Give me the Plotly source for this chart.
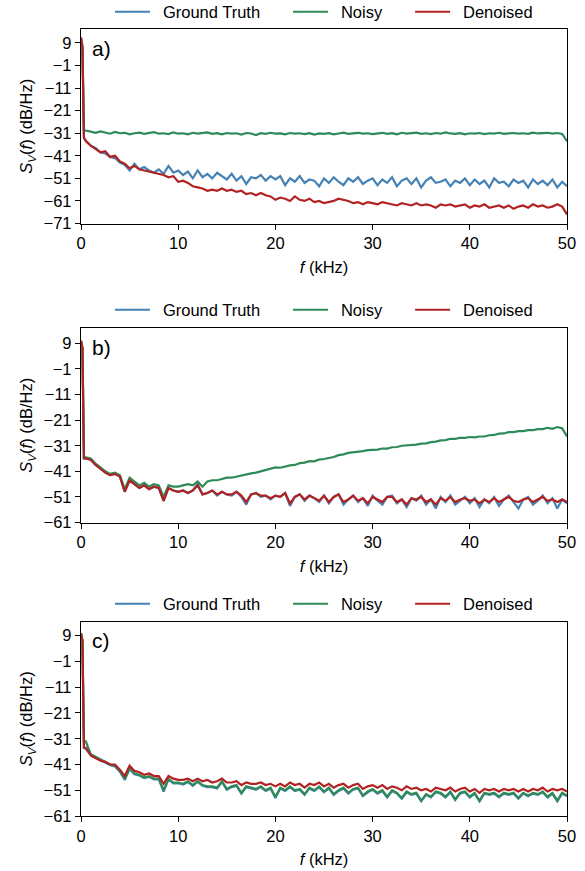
import plotly.graph_objects as go

# ---------------- data ----------------
freq_khz = [0.0, 0.15, 0.3] + [0.5 * i for i in range(1, 101)]

series_names = ["Ground Truth", "Noisy", "Denoised"]
colors = ["#4682b4", "#2e8b57", "#b22222"]

# Panel a
gt_a = [11, 7, -33,
        -34.5, -36.5, -37.5, -39.5, -40, -41.5, -42, -44, -45, -47.5,
        -44.5, -47, -46, -47.5, -48.5, -47, -49, -45.5, -48.5, -47.5,
        -49.5, -48, -51, -47.5, -50.5, -49, -51, -48.5, -50, -51.5,
        -49, -52, -50, -53.5, -50.5, -51, -49.5, -52, -50, -51.5,
        -50, -54, -51, -52.5, -50, -53, -51.5, -52, -54.5, -51,
        -53, -50.5, -52.5, -54, -51, -52.5, -50.5, -53.5, -52, -51,
        -54, -51.5, -53, -50.5, -54.5, -52, -51, -53.5, -51, -55,
        -52, -50.5, -53, -52.5, -51.5, -54.5, -52, -53, -51, -54,
        -51.5, -53.5, -52, -55, -51, -53, -52.5, -54.5, -51.5, -53,
        -52, -55, -51.5, -53.5, -52, -54, -51.5, -55, -52.5, -54.5]
noisy_a = [11, 7, -30,
           -29.8, -30.3, -30.8, -30.2, -30.6, -31.2, -30.4, -31, -30.8, -31.5,
           -31, -30.7, -31.3, -31, -30.5, -31.2, -31, -31.4, -30.6, -31.2,
           -31, -31.5, -30.8, -31.2, -31, -30.6, -31.3, -31, -31.5, -30.9,
           -31.2, -31, -31.6, -30.9, -31.1, -31.8, -31, -31.3, -30.8, -31.2,
           -31.1, -31.5, -30.9, -31.2, -31, -31.4, -31, -31.6, -31.1, -31.3,
           -31, -31.5, -31.1, -30.7, -31.3, -31, -30.8, -31.2, -31, -31.4,
           -31.1, -30.8, -31.3, -31, -31.5, -30.8, -31.2, -31, -30.7, -31.3,
           -31, -31.4, -30.9, -31.2, -30.6, -31.1, -31.3, -31, -31.5, -31,
           -31.2, -30.9, -31.4, -31, -31.2, -30.8, -31.3, -31.1, -30.9, -31.2,
           -31, -31.3, -30.7, -31.1, -31, -30.8, -31.2, -30.9, -31.3, -34.5]
den_a = [11.5, 7.5, -33,
         -34.5, -36.5, -38, -39.5, -39, -41.5, -41, -43.5, -44.5, -46.5,
         -45.5, -47, -47.5, -48, -48.5, -49, -49.5, -50.5, -50, -52.5,
         -52, -53, -54.5, -55, -55.5, -56.5, -56, -56.5, -55.5, -56.5,
         -56, -57, -56.5, -58, -57.5, -58.5, -57.5, -58.5, -59, -60.5,
         -59.5, -60, -61, -59, -60.5, -61, -60, -61.5, -61, -62,
         -61.5, -61, -60, -60.5, -61, -62, -61.5, -62.5, -61.5, -62,
         -62.5, -61.5, -62, -62.5, -63, -62, -62.5, -63, -62, -63,
         -62.5, -63, -64, -62.5, -63, -62.5, -63.5, -63, -62.5, -64,
         -63, -63.5, -62.5, -64, -63.5, -63, -64, -63, -64.5, -63.5,
         -63, -64, -62.5, -63.5, -63, -64, -63.5, -62.5, -63.5, -67]

# Panel b
gt_b = [10, 7, -36,
        -36, -36.5, -38.5, -40, -41.5, -42.5, -42, -43, -49, -44.5,
        -46, -47.5, -46.5, -48, -47, -47.5, -52.5, -47.5, -48.5, -49,
        -48.5, -49.5, -48.5, -46, -50, -49.5, -48.5, -50.5, -49, -50,
        -50.5, -49, -51, -54, -50, -49.5, -51, -50.5, -52, -50.5,
        -51, -49.5, -54.5, -51, -50, -52.5, -50.5, -51.5, -53, -50.5,
        -53.5, -51, -50, -54, -52, -50.5, -53, -51.5, -54.5, -50.5,
        -52.5, -54, -51, -50.5, -53.5, -52, -55, -51.5, -52.5, -50.5,
        -54, -52, -55.5, -51, -53, -50.5, -54, -52.5, -51, -53.5,
        -51.5, -55, -52, -53.5, -51, -54.5, -52, -50.5, -53, -55.5,
        -52, -51, -54, -52.5, -50.5, -53.5, -51.5, -55.5, -52, -53.5]
noisy_b = [10, 7, -35.5,
           -35.5, -36, -38, -39.5, -41, -42, -41.5, -42.5, -48, -43.5,
           -45, -46.5, -45.5, -47, -46, -46.5, -51, -46.5, -47, -47,
           -46.5, -46, -46.5, -45, -47, -45, -44.5, -44.5, -44, -43.5,
           -43.5, -43, -42.5, -42.3, -41.8, -41.5, -41, -40.6, -40.2, -39.5,
           -39.6, -39, -38.7, -38.5, -37.8, -37.6, -37, -37.1, -36.4, -36.2,
           -35.8, -35.4, -34.7, -34.4, -33.8, -33.6, -33.2, -33.1, -32.7, -32.6,
           -32.5, -32.1, -32.1, -31.6, -31.5, -31.0, -30.9, -30.6, -30.6, -30.2,
           -30.1, -29.6, -29.4, -28.9, -28.8, -28.3, -28.3, -27.9, -27.9, -27.6,
           -27.7, -27.4, -27.4, -26.9, -26.8, -26.3, -26.2, -25.7, -25.7, -25.3,
           -25.3, -24.9, -24.9, -24.5, -24.5, -24.0, -24.4, -23.7, -24.2, -27.4]
den_b = [10, 7, -36,
         -36, -36.5, -38.5, -40, -41.5, -42.5, -42, -43, -49, -44.5,
         -46, -47.5, -46.5, -48, -47, -47.5, -52.5, -47.5, -48.5, -49,
         -48.5, -49.5, -48.5, -46.5, -50, -49.5, -48.5, -50, -49, -50,
         -50, -49, -50.5, -53, -50, -49.5, -50.5, -50.5, -51.5, -50.5,
         -51, -49.5, -53.5, -51, -50, -52, -50.5, -51.5, -52.5, -50.5,
         -53, -51, -50, -53, -52, -50.5, -52.5, -51.5, -53.5, -51,
         -52, -53, -51, -51, -53, -52, -54, -51.5, -52, -51,
         -53, -52, -54, -51.5, -52.5, -51, -53, -52, -51.5, -52.5,
         -52, -53.5, -52, -53, -51.5, -53, -52, -51, -52.5, -53,
         -52, -51.5, -53, -52, -51, -52.5, -52, -53, -52, -53]

# Panel c
gt_c = [10, 7, -34.5,
        -35, -37.3, -38.3, -39.3, -40.3, -41.3, -41.8, -43.8, -47, -42.8,
        -44.8, -45.3, -46.3, -45.8, -46.8, -46.8, -51.5, -46.8, -48.3, -48.3,
        -48.8, -47.8, -49.3, -47.8, -49.3, -49.8, -49.8, -50.3, -47.8, -50.8,
        -49.8, -49.3, -52.3, -49.8, -50.3, -50.8, -49.8, -51.3, -50.3, -54,
        -50.3, -51.3, -49.8, -51.3, -50.8, -52.8, -50.3, -51.3, -49.8, -51.8,
        -50.3, -52.8, -51.3, -50.3, -52.3, -50.8, -50.3, -53.3, -51.8, -50.8,
        -52.3, -51.3, -53.8, -51.3, -52.3, -54.3, -51.8, -52.8, -52.3, -55.3,
        -52.8, -53.8, -51.8, -52.3, -53.8, -51.8, -54.8, -52.3, -51.8, -53.8,
        -52.3, -55.3, -52.3, -52.8, -52.3, -53.8, -52.3, -52.8, -52.3, -54.3,
        -52.3, -53.3, -52.3, -52.8, -51.8, -53.8, -52.3, -55.3, -52.3, -53.3]
noisy_c = [10, 7, -32,
           -32, -37, -38, -39, -40, -41, -41.5, -43.5, -46.5, -42.5,
           -44.5, -45, -46, -45.5, -46.5, -46.5, -51, -46.5, -48, -48,
           -48.5, -47.5, -49, -47.5, -49, -49.5, -49.5, -50, -47.5, -50.5,
           -49.5, -49, -52, -49.5, -50, -50.5, -49.5, -51, -50, -53.5,
           -50, -51, -49.5, -51, -50.5, -52.5, -50, -51, -49.5, -51.5,
           -50, -52.5, -51, -50, -52, -50.5, -50, -53, -51.5, -50.5,
           -52, -51, -53.5, -51, -52, -54, -51.5, -52.5, -52, -55,
           -52.5, -53.5, -51.5, -52, -53.5, -51.5, -54.5, -52, -51.5, -53.5,
           -52, -55, -52, -52.5, -52, -53.5, -52, -52.5, -52, -54,
           -52, -53, -52, -52.5, -51.5, -53.5, -52, -55, -52, -53]
den_c = [10, 7, -34.5,
         -34.5, -37.5, -38.5, -39.5, -40, -41, -41, -43, -45.5, -41.5,
         -43.5, -44, -45, -44.5, -45.5, -45.5, -48.5, -45.5, -46.5, -47,
         -47, -46.5, -47.5, -46.5, -47.5, -47, -48, -47.5, -46.5, -48,
         -48, -47.5, -49, -48, -48.5, -48.5, -48, -49, -48.5, -49.5,
         -48.5, -49.5, -48, -49, -48.5, -50, -48.5, -49, -48, -49.5,
         -48.5, -50, -49, -48.5, -50, -49, -48.5, -50.5, -49.5, -49,
         -50, -49, -50.5, -49.5, -50, -51, -49.5, -50.5, -50, -51,
         -50.5, -51.5, -50, -50.5, -51, -50, -51.5, -50.5, -50, -51.5,
         -50.5, -52, -50.5, -51, -50.5, -51.5, -50.5, -51, -50.5, -51.5,
         -50.5, -51.5, -50.5, -51, -50, -51.5, -50.5, -51, -50.5, -51.5]

panel_labels = ["a)", "b)", "c)"]
x_ticks = [0, 10, 20, 30, 40, 50]
y_ticks_a = [9, -1, -11, -21, -31, -41, -51, -61, -71]
y_ticks_bc = [9, -1, -11, -21, -31, -41, -51, -61]

panels = [
    ([gt_a, noisy_a, den_a], y_ticks_a, [-71, 15.2]),
    ([gt_b, noisy_b, den_b], y_ticks_bc, [-61, 15.0]),
    ([gt_c, noisy_c, den_c], y_ticks_bc, [-61, 14.5]),
]

# ---------------- layout geometry (page pixels) ----------------
W, H = 585, 871
plot_left, plot_right = 81, 567
plot_top, plot_bottom = 29, 816
m_l, m_r, m_t, m_b = plot_left, W - plot_right, plot_top, H - plot_bottom
ph = H - m_t - m_b
panel_px = [(29, 223.5), (328, 522.5), (621.5, 816)]
legend_px = [12, 310, 604]
FS = 16.5

def py(p):
    # page pixel y -> paper fraction
    return (plot_bottom - p) / ph

FONT = "Liberation Sans, Arial, sans-serif"
NB = "\u00a0"
THIN = "\u2009"
legend_labels = [NB + THIN + series_names[0] + NB * 5,
                 NB + THIN + series_names[1] + NB * 5,
                 NB + THIN + series_names[2]]

fig = go.Figure()
layout = dict(
    width=W, height=H,
    margin=dict(l=m_l, r=m_r, t=m_t, b=m_b, autoexpand=False),
    paper_bgcolor="white", plot_bgcolor="white",
    font=dict(family=FONT, size=FS, color="black"),
    annotations=[],
)

def minus(v):
    return str(v).replace("-", "\u2212")

for i, (ys, yticks, yr) in enumerate(panels):
    n = "" if i == 0 else str(i + 1)
    leg = "legend" if i == 0 else f"legend{i+1}"
    for name, col, y in zip(legend_labels, colors, ys):
        fig.add_trace(go.Scatter(
            x=freq_khz, y=y, mode="lines", name=name,
            line=dict(color=col, width=2.2),
            xaxis="x" + n, yaxis="y" + n, legend=leg,
        ))
    top, bot = panel_px[i]
    common = dict(showline=True, linecolor="black", linewidth=1.3, mirror=True,
                  ticks="outside", ticklen=5, tickwidth=1.3, tickcolor="black",
                  showgrid=False, zeroline=False, automargin=False,
                  tickfont=dict(family=FONT, size=FS, color="black"))
    layout["xaxis" + n] = dict(
        common, domain=[0, 1], range=[0, 50], anchor="y" + n,
        tickvals=x_ticks, ticktext=[str(t) for t in x_ticks],
        title=dict(text="<i>f</i> (kHz)", standoff=9,
                   font=dict(family=FONT, size=FS, color="black")),
    )
    layout["yaxis" + n] = dict(
        common, domain=[py(bot), py(top)], range=yr, anchor="x" + n,
        tickvals=yticks, ticktext=[minus(t) for t in yticks],
        title=dict(text="<i>S<sub>V</sub></i>(<i>f</i>) (dB/Hz)", standoff=6,
                   font=dict(family=FONT, size=FS, color="black")),
    )
    layout[leg] = dict(
        orientation="h", x=0.5, xanchor="center", y=py(legend_px[i]),
        yanchor="middle", font=dict(family=FONT, size=FS, color="black"),
        bgcolor="rgba(0,0,0,0)", itemwidth=35, tracegroupgap=0,
    )
    layout["annotations"].append(dict(
        text=panel_labels[i], xref="x" + n + " domain", yref="y" + n + " domain",
        x=0.018, y=0.97, xanchor="left", yanchor="top", showarrow=False,
        font=dict(family=FONT, size=21, color="black"),
    ))

fig.update_layout(**layout)
fig.write_html(
    "out.html",
    config={"displayModeBar": False},
    post_script="document.body.style.margin='0';document.body.style.padding='0';",
)
